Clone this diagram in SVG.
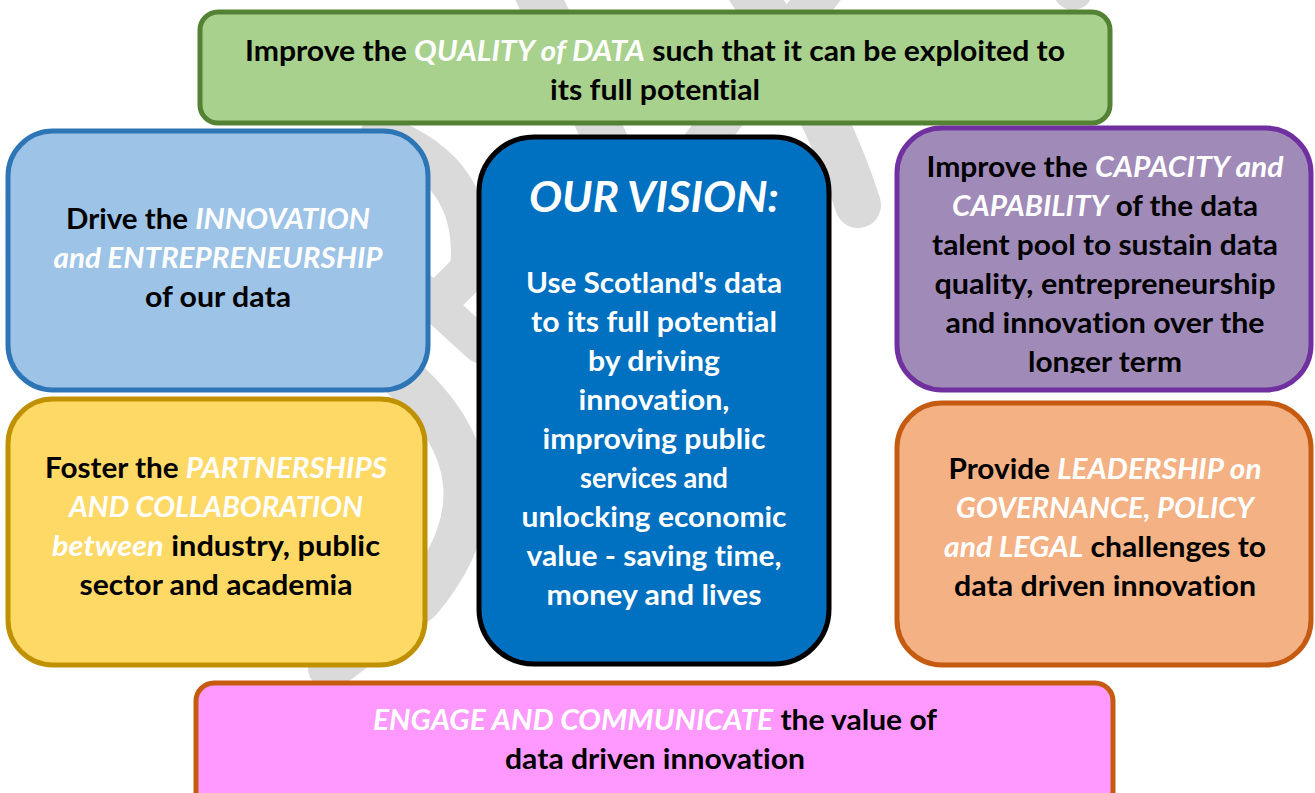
<svg xmlns="http://www.w3.org/2000/svg" width="1315" height="793" viewBox="0 0 1315 793">
<defs>
<style>
.bg{fill:none;stroke:#dadada;stroke-linecap:round;stroke-linejoin:round}
.box{stroke-width:5}
text{font-family:Lato,"Open Sans","Liberation Sans",sans-serif;font-weight:700;font-size:29px;fill:#000;text-anchor:middle;font-variant-ligatures:none;font-feature-settings:"liga" 0,"clig" 0,"dlig" 0}
.em{font-style:italic;fill:#fff}
.w{fill:#fff}
</style>
<clipPath id="clipP"><rect x="897" y="128" width="414" height="245"/></clipPath>
</defs>
<rect width="1315" height="793" fill="#fff"/>
<g id="watermark">
<path class="bg" stroke-width="46" d="M740,-25 Q825,100 858,205"/>
<path class="bg" stroke-width="40" d="M835,-25 L690,160"/>
<path class="bg" stroke-width="44" d="M520,-40 Q560,40 610,150"/>
<path class="bg" stroke-width="40" d="M1082,-40 L1073,-10"/>
<path class="bg" stroke-width="40" d="M380,135 Q480,170 470,270 L440,300"/>
<path class="bg" stroke-width="36" d="M420,290 L480,345"/>
<path class="bg" stroke-width="44" d="M400,375 Q520,480 420,600 L330,668"/>
</g>
<g id="node-quality">
<rect class="box" x="200" y="12" width="910" height="111" rx="18" fill="#a9d18e" stroke="#548235"/>
<text x="655" y="61" textLength="820" lengthAdjust="spacingAndGlyphs">Improve the <tspan class="em">QUALITY of DATA</tspan> such that it can be exploited to</text>
<text x="655" y="100" textLength="210" lengthAdjust="spacingAndGlyphs">its full potential</text>
</g>
<g id="node-innovation">
<rect class="box" x="8" y="131" width="420" height="259" rx="45" fill="#9dc3e6" stroke="#2e75b6"/>
<text x="218" y="229" textLength="304" lengthAdjust="spacingAndGlyphs">Drive the <tspan class="em">INNOVATION</tspan></text>
<text x="218" y="268" textLength="329" lengthAdjust="spacingAndGlyphs"><tspan class="em">and ENTREPRENEURSHIP</tspan></text>
<text x="218" y="307" textLength="146" lengthAdjust="spacingAndGlyphs">of our data</text>
</g>
<g id="node-vision">
<rect class="box" x="479" y="137" width="350" height="527" rx="55" fill="#0070c0" stroke="#000"/>
<text class="em" x="654" y="212" style="font-size:42px" textLength="250" lengthAdjust="spacingAndGlyphs">OUR VISION:</text>
<g class="w">
<text class="w" x="654" y="293" textLength="256" lengthAdjust="spacingAndGlyphs">Use Scotland's data</text>
<text class="w" x="654" y="332" textLength="246" lengthAdjust="spacingAndGlyphs">to its full potential</text>
<text class="w" x="654" y="371" textLength="132" lengthAdjust="spacingAndGlyphs">by driving</text>
<text class="w" x="654" y="410" textLength="151" lengthAdjust="spacingAndGlyphs">innovation,</text>
<text class="w" x="654" y="449" textLength="223" lengthAdjust="spacingAndGlyphs">improving public</text>
<text class="w" x="654" y="488" textLength="148" lengthAdjust="spacingAndGlyphs">services and</text>
<text class="w" x="654" y="527" textLength="265" lengthAdjust="spacingAndGlyphs">unlocking economic</text>
<text class="w" x="654" y="566" textLength="255" lengthAdjust="spacingAndGlyphs">value - saving time,</text>
<text class="w" x="654" y="605" textLength="215" lengthAdjust="spacingAndGlyphs">money and lives</text>
</g>
</g>
<g id="node-capacity">
<rect class="box" x="897" y="128" width="414" height="262" rx="45" fill="#a08ab8" stroke="#7030a0"/>
<g clip-path="url(#clipP)">
<text x="1105" y="177" textLength="357" lengthAdjust="spacingAndGlyphs">Improve the <tspan class="em">CAPACITY and</tspan></text>
<text x="1105" y="216" textLength="306" lengthAdjust="spacingAndGlyphs"><tspan class="em">CAPABILITY</tspan> of the data</text>
<text x="1105" y="255" textLength="346" lengthAdjust="spacingAndGlyphs">talent pool to sustain data</text>
<text x="1105" y="294" textLength="341" lengthAdjust="spacingAndGlyphs">quality, entrepreneurship</text>
<text x="1105" y="333" textLength="319" lengthAdjust="spacingAndGlyphs">and innovation over the</text>
<text x="1105" y="372" textLength="154" lengthAdjust="spacingAndGlyphs">longer term</text>
</g>
</g>
<g id="node-partnerships">
<rect class="box" x="8" y="399" width="417" height="266" rx="45" fill="#ffd966" stroke="#bf9000"/>
<text x="216" y="478" textLength="342" lengthAdjust="spacingAndGlyphs">Foster the <tspan class="em">PARTNERSHIPS</tspan></text>
<text x="216" y="517" textLength="294" lengthAdjust="spacingAndGlyphs"><tspan class="em">AND COLLABORATION</tspan></text>
<text x="216" y="556" textLength="328" lengthAdjust="spacingAndGlyphs"><tspan class="em">between</tspan> industry, public</text>
<text x="216" y="595" textLength="273" lengthAdjust="spacingAndGlyphs">sector and academia</text>
</g>
<g id="node-leadership">
<rect class="box" x="897" y="403" width="414" height="262" rx="45" fill="#f4b183" stroke="#c55a11"/>
<text x="1105" y="479" textLength="313" lengthAdjust="spacingAndGlyphs">Provide <tspan class="em">LEADERSHIP on</tspan></text>
<text x="1105" y="518" textLength="298" lengthAdjust="spacingAndGlyphs"><tspan class="em">GOVERNANCE, POLICY</tspan></text>
<text x="1105" y="557" textLength="322" lengthAdjust="spacingAndGlyphs"><tspan class="em">and LEGAL</tspan> challenges to</text>
<text x="1105" y="596" textLength="302" lengthAdjust="spacingAndGlyphs">data driven innovation</text>
</g>
<g id="node-engage">
<rect class="box" x="196" y="683" width="917" height="130" rx="18" fill="#ff99ff" stroke="#c55a11"/>
<text x="655" y="730" textLength="564" lengthAdjust="spacingAndGlyphs"><tspan class="em">ENGAGE AND COMMUNICATE</tspan> the value of</text>
<text x="655" y="769" textLength="300" lengthAdjust="spacingAndGlyphs">data driven innovation</text>
</g>
<g id="connectors"/>
</svg>
